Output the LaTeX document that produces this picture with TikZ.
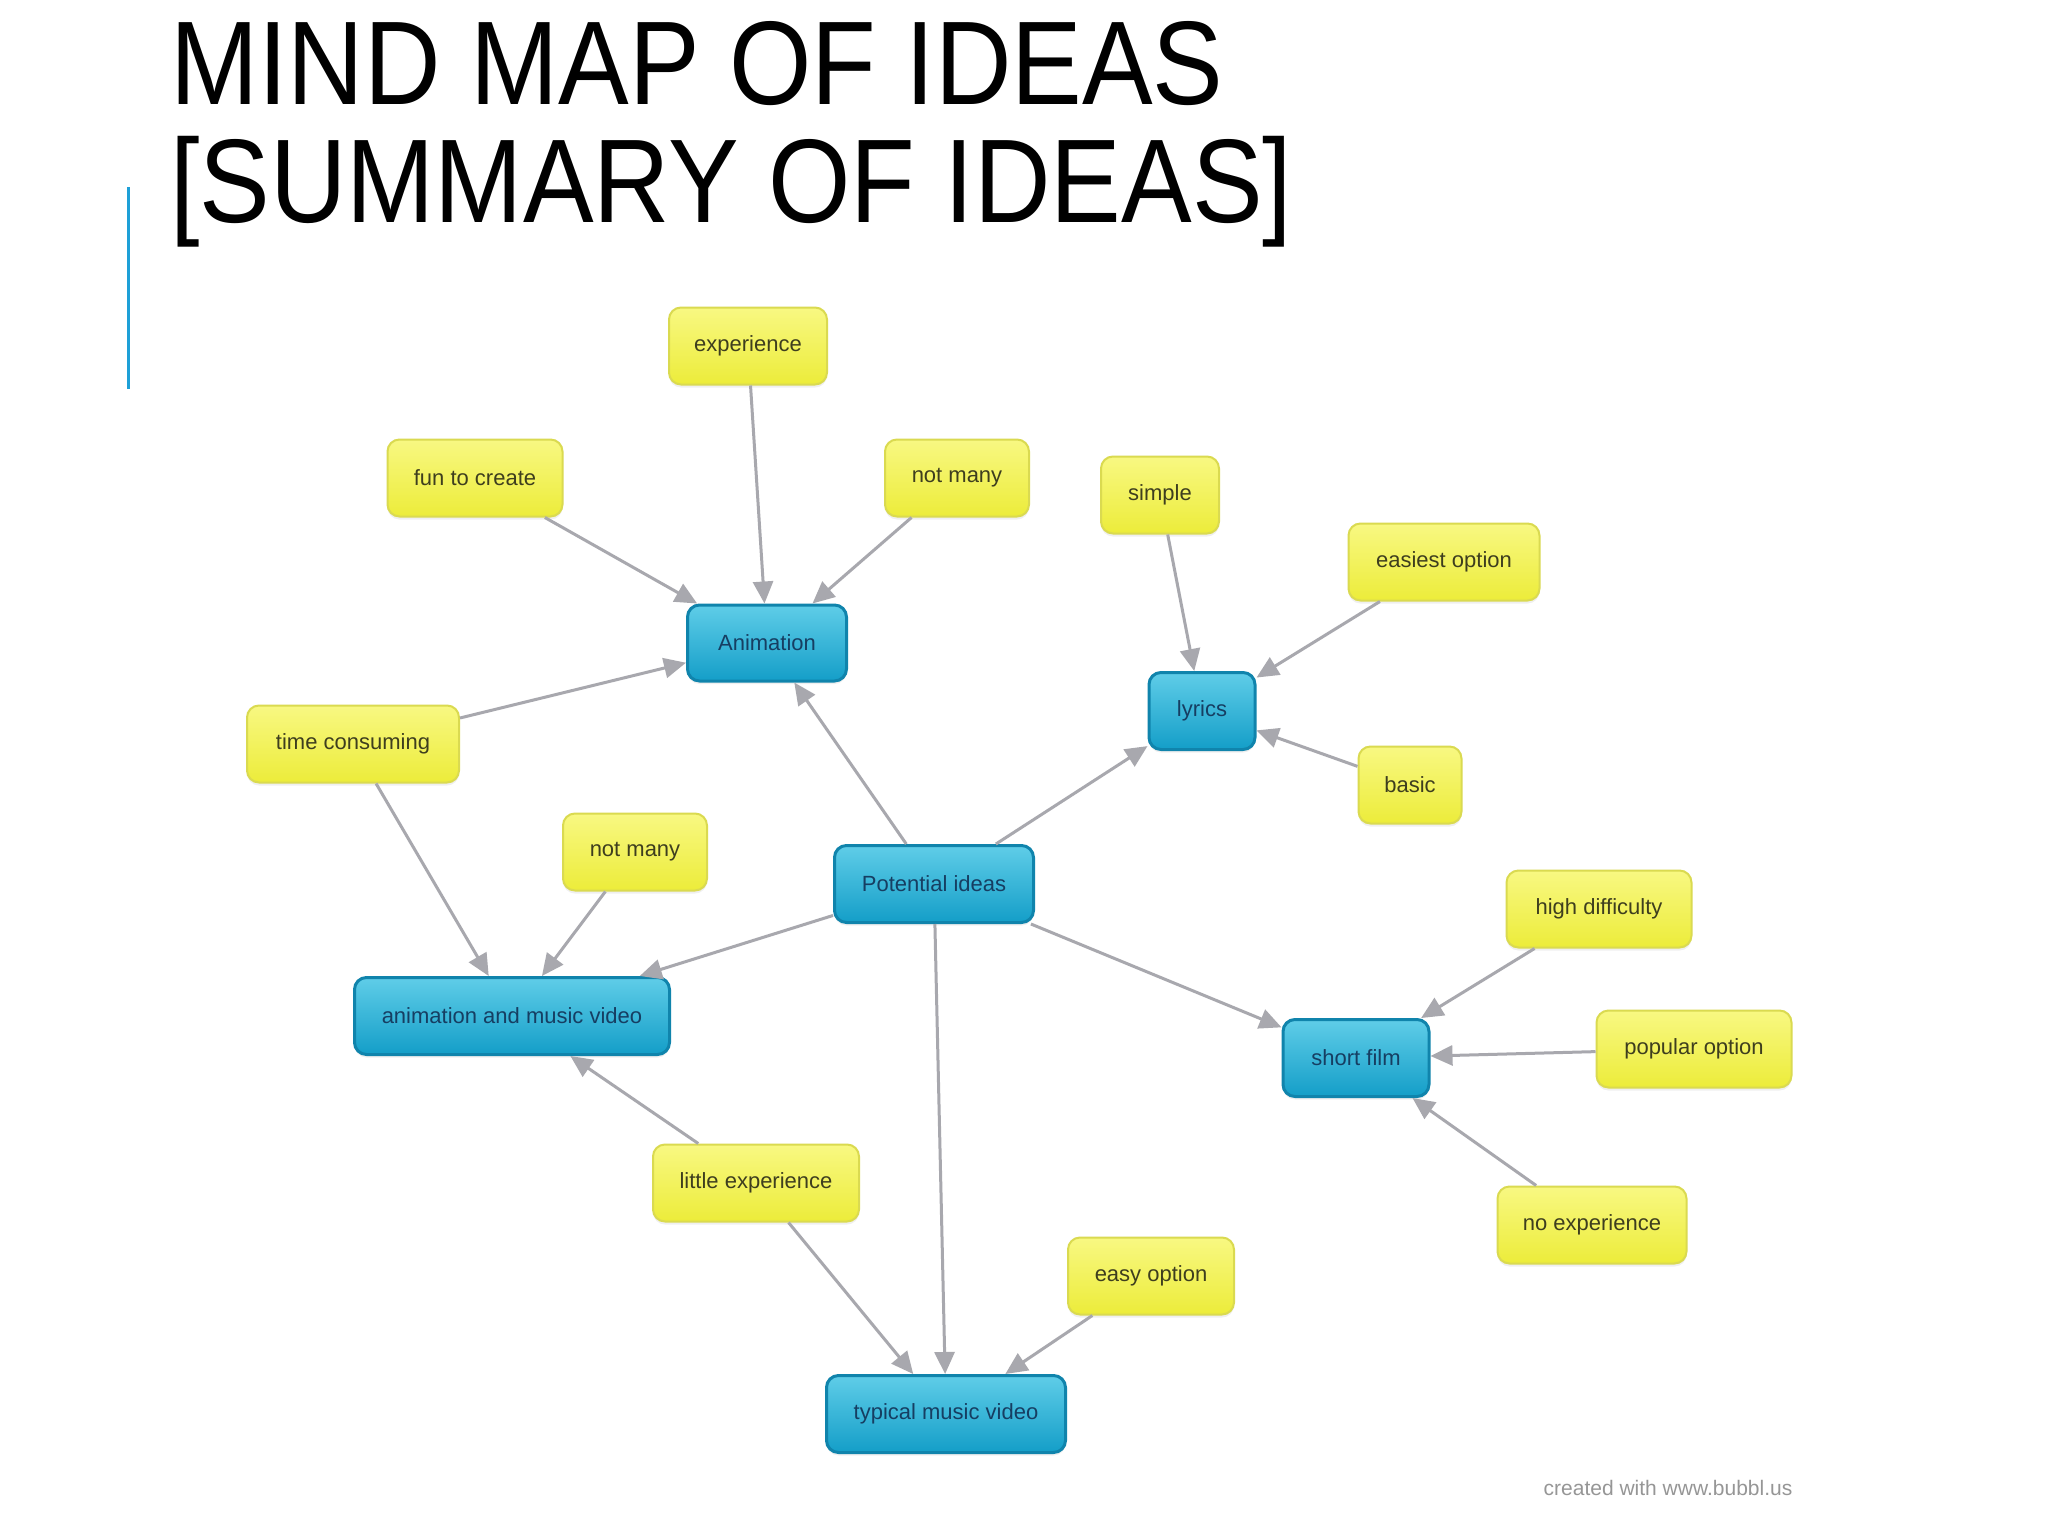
\documentclass[tikz,border=0pt]{standalone}
\usepackage{fontspec}
\setmainfont{Liberation Sans}
\usetikzlibrary{arrows.meta,shadows}
\definecolor{ylfill}{RGB}{236,236,58}
\definecolor{yltop}{RGB}{248,248,130}
\definecolor{ylborder}{RGB}{218,218,80}
\definecolor{bltop}{RGB}{95,205,232}
\definecolor{blbot}{RGB}{20,158,200}
\definecolor{blborder}{RGB}{16,132,172}
\definecolor{edgegrey}{RGB}{168,168,174}
\definecolor{yltext}{RGB}{62,62,30}
\definecolor{bltext}{RGB}{22,62,98}
\definecolor{accent}{RGB}{30,160,215}
\definecolor{footgrey}{RGB}{150,150,150}
\tikzset{
  idea/.style={rectangle, rounded corners=12pt, minimum height=77pt, inner sep=0pt,
    draw=ylborder, line width=2pt, top color=yltop, bottom color=ylfill, text=yltext,
    font=\fontsize{22}{26}\selectfont,
    drop shadow={opacity=0.12, shadow xshift=0pt, shadow yshift=-3pt}},
  core/.style={rectangle, rounded corners=12pt, minimum height=77pt, inner sep=0pt,
    draw=blborder, line width=3pt, top color=bltop, bottom color=blbot, text=bltext,
    font=\fontsize{22}{26}\selectfont,
    drop shadow={opacity=0.12, shadow xshift=0pt, shadow yshift=-3pt}},
  link/.style={draw=edgegrey, line width=3pt, -{Triangle[length=22pt,width=20pt]}},
  titletext/.style={anchor=base west, inner sep=0pt, font=\fontsize{119}{117}\selectfont, text=black}
}
\begin{document}
\begin{tikzpicture}[x=1pt,y=-1pt]
\useasboundingbox[fill=white] (0,0) rectangle (2048,1536);

% title
\node[titletext] (t1) at (170,105) {\scalebox{0.89}[1]{MIND MAP OF IDEAS}};
\node[titletext] (t2) at (170,222) {\scalebox{0.89}[1]{[SUMMARY OF IDEAS]}};
\draw[accent, line width=3pt] (128,187) -- (128,389);

% nodes
\node[idea, minimum width=158pt] (nExp) at (748,346) {experience};
\node[idea, minimum width=175pt] (nFun) at (475,478) {fun to create};
\node[idea, minimum width=144pt] (nNMtop) at (957,478) {not many};
\node[idea, minimum width=118pt] (nSimple) at (1160,495) {simple};
\node[idea, minimum width=191pt] (nEasiest) at (1444,562) {easiest option};
\node[core, minimum width=159pt, minimum height=76pt] (nAnim) at (767,643) {Animation};
\node[core, minimum width=106pt] (nLyrics) at (1202,711) {lyrics};
\node[idea, minimum width=212pt] (nTime) at (353,744) {time consuming};
\node[idea, minimum width=103pt] (nBasic) at (1410,785) {basic};
\node[idea, minimum width=144pt] (nNMleft) at (635,852) {not many};
\node[core, minimum width=199pt] (nPot) at (934,884) {Potential ideas};
\node[idea, minimum width=185pt] (nHigh) at (1599,909) {high difficulty};
\node[core, minimum width=315pt] (nAMV) at (512,1016) {animation and music video};
\node[idea, minimum width=195pt] (nPop) at (1694,1049) {popular option};
\node[core, minimum width=146pt] (nShort) at (1356,1058) {short film};
\node[idea, minimum width=206pt] (nLittle) at (756,1183) {little experience};
\node[idea, minimum width=189pt] (nNoExp) at (1592,1225) {no experience};
\node[idea, minimum width=166pt] (nEasy) at (1151,1276) {easy option};
\node[core, minimum width=239pt] (nTyp) at (946,1414) {typical music video};

% connectors
\draw[link] (nFun) -- (nAnim);
\draw[link] (nExp) -- (nAnim);
\draw[link] (nNMtop) -- (nAnim);
\draw[link] (nTime) -- (nAnim);
\draw[link] (nPot) -- (nAnim);
\draw[link] (nSimple) -- (nLyrics);
\draw[link] (nEasiest) -- (nLyrics);
\draw[link] (nBasic) -- (nLyrics);
\draw[link] (nPot) -- (nLyrics);
\draw[link] (nTime) -- (nAMV);
\draw[link] (nNMleft) -- (nAMV);
\draw[link] (nPot) -- (nAMV);
\draw[link] (nLittle) -- (nAMV);
\draw[link] (nPot) -- (nShort);
\draw[link] (nHigh) -- (nShort);
\draw[link] (nPop) -- (nShort);
\draw[link] (nNoExp) -- (nShort);
\draw[link] (nPot) -- (nTyp);
\draw[link] (nLittle) -- (nTyp);
\draw[link] (nEasy) -- (nTyp);

% footer
\node[font=\fontsize{21}{25}\selectfont, text=footgrey, inner sep=0pt] (foot) at (1668,1488) {created with www.bubbl.us};
\end{tikzpicture}
\end{document}
